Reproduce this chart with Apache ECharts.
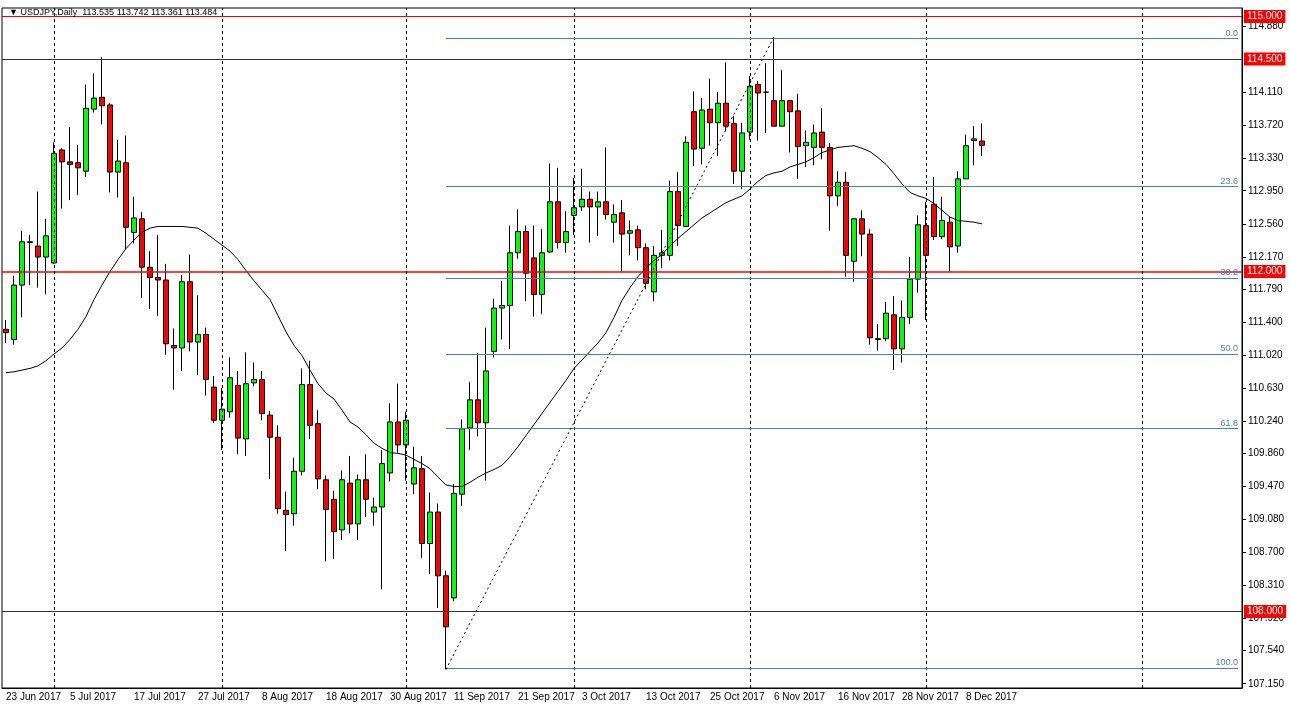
<!DOCTYPE html>
<html><head><meta charset="utf-8">
<script src="https://cdn.jsdelivr.net/npm/echarts@6/dist/echarts.min.js"></script>
<style>html,body{margin:0;padding:0;background:#fff}#c{width:1290px;height:710px}</style>
</head><body><div id="c"></div>
<script>
const opens=[111.32,111.20,111.84,112.34,112.30,112.17,112.10,113.43,113.29,113.28,113.18,113.91,114.05,113.96,113.17,113.28,112.46,112.62,112.05,111.93,111.90,111.13,111.10,111.88,111.17,111.26,110.64,110.25,110.35,110.66,110.03,110.69,110.73,110.31,110.05,109.19,109.15,109.65,110.67,110.21,109.55,109.32,108.96,109.51,109.03,109.55,109.17,109.23,109.63,110.23,109.96,109.50,109.68,108.80,109.17,108.42,108.16,109.38,110.16,110.49,110.22,111.06,111.57,111.60,112.22,112.47,112.16,111.73,112.23,112.82,112.34,112.66,112.76,112.85,112.76,112.82,112.58,112.69,112.45,112.49,112.28,111.76,112.19,112.19,112.94,112.53,113.88,113.45,113.91,113.75,113.98,113.74,113.18,113.64,114.20,114.11,114.01,113.71,114.01,113.89,113.48,113.46,113.64,113.46,112.89,113.05,112.12,112.62,112.44,111.21,111.21,111.49,111.09,111.46,111.91,112.54,112.79,112.41,112.58,112.30,113.09,113.54,113.535];
const highs=[111.43,111.95,112.48,112.43,112.94,112.62,113.52,113.45,113.70,113.49,114.20,114.33,114.52,113.98,113.55,113.60,112.88,112.70,112.24,112.43,112.09,111.33,111.96,112.20,111.72,111.34,110.77,110.63,110.99,110.83,111.05,110.93,110.83,110.36,110.19,109.41,109.81,110.86,110.95,110.37,109.60,109.42,109.66,109.83,109.61,109.85,109.34,109.90,110.45,110.68,110.35,109.94,109.83,109.40,109.27,108.48,109.50,110.26,110.70,111.04,111.34,111.68,111.89,112.54,112.73,112.54,112.54,112.50,113.27,113.22,112.71,113.10,113.21,112.94,112.94,113.46,112.79,112.84,112.60,112.54,112.33,112.30,112.49,113.07,113.17,113.59,114.12,114.04,114.27,114.11,114.46,113.83,113.75,114.30,114.24,114.45,114.76,114.37,114.01,114.09,113.66,113.73,113.92,113.51,113.18,113.17,112.63,112.72,112.50,111.38,111.64,111.71,111.66,112.17,112.66,112.82,113.11,112.88,112.64,113.18,113.61,113.71,113.742];
const lows=[111.16,111.14,111.46,111.84,111.81,111.73,112.09,112.74,112.84,112.90,113.11,113.87,113.73,112.93,112.87,112.26,112.33,111.69,111.56,111.48,111.02,110.61,110.83,111.06,110.78,110.54,110.22,109.90,110.28,109.85,109.83,110.65,110.25,109.56,109.15,108.71,109.01,109.60,110.03,109.44,108.59,108.62,108.84,108.92,108.84,109.11,109.01,108.26,109.53,109.87,109.54,109.38,108.63,108.44,108.04,107.32,108.12,109.24,109.90,110.06,109.54,110.99,111.20,111.09,112.15,111.65,111.47,111.50,112.22,112.27,112.22,112.43,112.71,112.34,112.42,112.61,112.34,111.99,112.19,112.13,111.79,111.65,112.04,112.13,112.30,112.53,113.24,113.26,113.48,113.36,113.65,113.03,112.97,113.55,113.54,113.63,113.71,113.71,113.40,113.09,113.23,113.25,113.32,112.48,112.77,111.94,111.88,112.18,111.14,111.07,111.18,110.84,110.93,111.38,111.75,111.43,112.37,112.38,111.99,112.22,113.09,113.25,113.361];
const closes=[111.28,111.84,112.35,112.35,112.17,112.42,113.39,113.29,113.26,113.22,113.92,114.04,113.95,113.17,113.30,112.52,112.63,112.05,111.93,111.90,111.15,111.10,111.88,111.17,111.26,110.73,110.25,110.38,110.75,110.04,110.68,110.73,110.33,110.05,109.21,109.14,109.65,110.67,110.19,109.56,109.20,108.94,109.55,109.03,109.55,109.32,109.23,109.74,110.23,109.96,110.25,109.69,108.80,109.17,108.42,107.82,109.39,110.15,110.49,110.22,110.83,111.57,111.60,112.22,112.47,111.98,111.73,112.22,112.82,112.34,112.47,112.75,112.85,112.76,112.82,112.67,112.67,112.44,112.48,112.28,111.86,112.19,112.22,112.94,112.54,113.52,113.44,113.90,113.75,113.98,113.71,113.18,113.63,114.18,114.10,114.11,113.71,114.01,113.88,113.47,113.52,113.63,113.46,112.89,113.05,112.19,112.62,112.44,111.22,111.20,111.51,111.09,111.46,111.91,112.55,112.19,112.41,112.60,112.29,113.09,113.48,113.56,113.484];
// moving average line
const maValues=[110.81,110.82,110.84,110.86,110.89,110.95,111.03,111.10,111.20,111.32,111.47,111.67,111.84,112.00,112.14,112.27,112.37,112.46,112.51,112.53,112.53,112.53,112.53,112.52,112.51,112.45,112.38,112.31,112.24,112.14,112.01,111.89,111.78,111.67,111.48,111.29,111.13,111.01,110.84,110.68,110.57,110.50,110.37,110.23,110.17,110.08,109.98,109.92,109.87,109.86,109.84,109.79,109.74,109.68,109.58,109.49,109.47,109.47,109.52,109.58,109.63,109.67,109.72,109.82,109.94,110.07,110.20,110.33,110.46,110.59,110.72,110.86,110.96,111.06,111.16,111.28,111.46,111.66,111.81,111.94,112.04,112.13,112.20,112.30,112.39,112.47,112.55,112.63,112.69,112.75,112.81,112.85,112.89,112.97,113.06,113.13,113.16,113.18,113.23,113.26,113.29,113.34,113.40,113.43,113.46,113.47,113.48,113.45,113.41,113.34,113.26,113.15,113.03,112.93,112.89,112.86,112.80,112.72,112.64,112.60,112.59,112.58,112.56];
const yTicks=[114.880,114.110,113.720,113.330,112.950,112.560,112.170,111.790,111.400,111.020,110.630,110.240,109.860,109.470,109.080,108.700,108.310,107.920,107.540,107.150];
const levelValues=[115.000,114.500,112.000,108.000];
const levelLineColors=['#ff0000','#333333','#ff0000','#333333'];
const fibLevels=[114.74,112.998,111.92,111.03,110.15,107.33];
const fibNames=['0.0','23.6','38.2','50.0','61.8','100.0'];
const separators=[6,27,50,71,93,115,142];
const N=155, NC=opens.length;
const mon=['Jan','Feb','Mar','Apr','May','Jun','Jul','Aug','Sep','Oct','Nov','Dec'];
const cats=[];let d=new Date(2017,5,23);
for(let i=0;i<N;i++){cats.push(i<NC?d.getDate()+' '+mon[d.getMonth()]+' '+d.getFullYear():'');do{d.setDate(d.getDate()+1);}while(d.getDay()==0||d.getDay()==6);}
const candles=opens.map((o,i)=>[o,closes[i],lows[i],highs[i]]);
const F='Liberation Sans';
const ml=[];
levelValues.forEach((v,k)=>ml.push({yAxis:v,lineStyle:{color:levelLineColors[k],width:(v===112?1.6:1),type:'solid',opacity:1},label:{show:true,position:'end',distance:2,formatter:v.toFixed(3),color:'#fff',backgroundColor:'#ff0000',padding:[2,3,1,3],fontSize:10,fontFamily:F}}));
ml.push({yAxis:113.484,lineStyle:{opacity:0},label:{show:true,position:'end',distance:2,formatter:'113.484',color:'#000',backgroundColor:'#fff',borderColor:'#000',borderWidth:1,padding:[1,3,0,3],fontSize:10,fontFamily:F}});
separators.forEach(s=>ml.push({xAxis:s,lineStyle:{color:'#000',type:[3,3],width:1},label:{show:false}}));
fibLevels.forEach((v,k)=>ml.push([{coord:[55,v],lineStyle:{color:'#4a7fb5',width:1,type:'solid'},label:{show:true,position:'insideEndTop',formatter:fibNames[k],color:'#4a7fb5',fontSize:9,fontFamily:F,distance:[0,1]}},{coord:[N-1,v]}]));
ml.push([{coord:[55,107.32],lineStyle:{color:'#000',type:[2,3],width:1},label:{show:false}},{coord:[96,114.76]}]);
const chart=echarts.init(document.getElementById('c'));
chart.setOption({
animation:false,backgroundColor:'#fff',
title:{text:'▼ USDJPY,Daily  113.535 113.742 113.361 113.484',left:4,top:3,textStyle:{fontSize:9,fontWeight:'normal',color:'#000',fontFamily:F}},
grid:{left:2,top:8,width:1240,height:680,show:true,borderColor:'#000',borderWidth:1},
xAxis:{type:'category',data:cats,axisLine:{lineStyle:{color:'#000'}},
 axisTick:{interval:(i)=>i%8===0&&i<NC,length:4,lineStyle:{color:'#000'}},
 axisLabel:{interval:(i)=>i%8===0&&i<NC,align:'left',margin:4,fontSize:10,color:'#000',fontFamily:F},splitLine:{show:false}},
yAxis:{type:'value',position:'right',min:107.10,max:115.10,axisLine:{show:true,lineStyle:{color:'#000'}},
 axisTick:{show:true,length:4,customValues:yTicks,lineStyle:{color:'#000'}},
 axisLabel:{customValues:yTicks,formatter:v=>v.toFixed(3),fontSize:10,color:'#000',margin:6,fontFamily:F},splitLine:{show:false}},
series:[
{type:'candlestick',data:candles,barWidth:5,itemStyle:{color:'#00ff00',color0:'#ff0000',borderColor:'#000',borderColor0:'#000',borderWidth:1},
 markLine:{silent:true,symbol:['none','none'],animation:false,data:ml}},
{type:'line',data:maValues,showSymbol:false,symbol:'none',lineStyle:{color:'#000',width:1},z:3}
]});
</script></body></html>
